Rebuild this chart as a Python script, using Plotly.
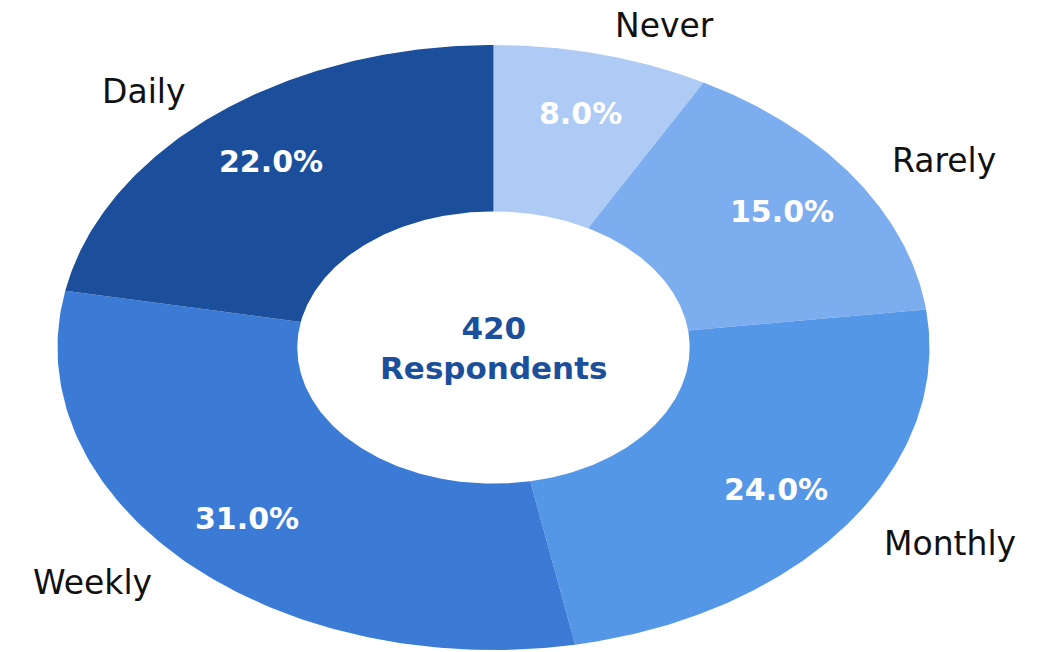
import numpy as np
import plotly.graph_objects as go

categories = ["Never", "Rarely", "Monthly", "Weekly", "Daily"]
shares = [8.0, 15.0, 24.0, 31.0, 22.0]
colors = ["#adcbf4", "#7cadef", "#5497e6", "#3b7bd5", "#1b4f9b"]
total_respondents = 420

W, H = 1047, 652
cx_px, cy_px = 493.5, 347.5
rx_px, ry_px = 436.0, 302.5
hole = 0.45
pct_dist = 0.80
label_dist = 1.10

fig = go.Figure()
start = 90.0
total = sum(shares)
for cat, val, col in zip(categories, shares, colors):
    sweep = val / total * 360.0
    ang = np.linspace(start, start - sweep, 120)
    rad = np.radians(ang)
    xo, yo = np.cos(rad), np.sin(rad)
    xi, yi = hole * np.cos(rad[::-1]), hole * np.sin(rad[::-1])
    fig.add_trace(go.Scatter(
        x=np.concatenate([xo, xi, xo[:1]]),
        y=np.concatenate([yo, yi, yo[:1]]),
        fill="toself", fillcolor=col, mode="lines",
        line=dict(width=0, color=col), hoverinfo="skip", showlegend=False))
    mid = np.radians(start - sweep / 2)
    fig.add_annotation(x=pct_dist * np.cos(mid), y=pct_dist * np.sin(mid),
                       text=f"<b>{val:.1f}%</b>", showarrow=False,
                       font=dict(family="DejaVu Sans", size=30, color="white"),
                       xanchor="center", yanchor="middle")
    lx, ly = label_dist * np.cos(mid), label_dist * np.sin(mid)
    fig.add_annotation(x=lx, y=ly, text=cat, showarrow=False,
                       font=dict(family="DejaVu Sans", size=33, color="#111111"),
                       xanchor="left" if lx > 0 else "right", yanchor="middle")
    start -= sweep

fig.add_annotation(x=0, y=0, text=f"<b>{total_respondents}<br>Respondents</b>",
                   showarrow=False,
                   font=dict(family="DejaVu Sans", size=31, color="#1b4f9b"),
                   xanchor="center", yanchor="middle")

fig.update_layout(
    width=W, height=H, margin=dict(l=0, r=0, t=0, b=0),
    paper_bgcolor="white", plot_bgcolor="white",
    xaxis=dict(range=[-cx_px / rx_px, (W - cx_px) / rx_px], visible=False, fixedrange=True),
    yaxis=dict(range=[-(H - cy_px) / ry_px, cy_px / ry_px], visible=False, fixedrange=True),
)
fig.write_html("out.html", config={"displayModeBar": False})
